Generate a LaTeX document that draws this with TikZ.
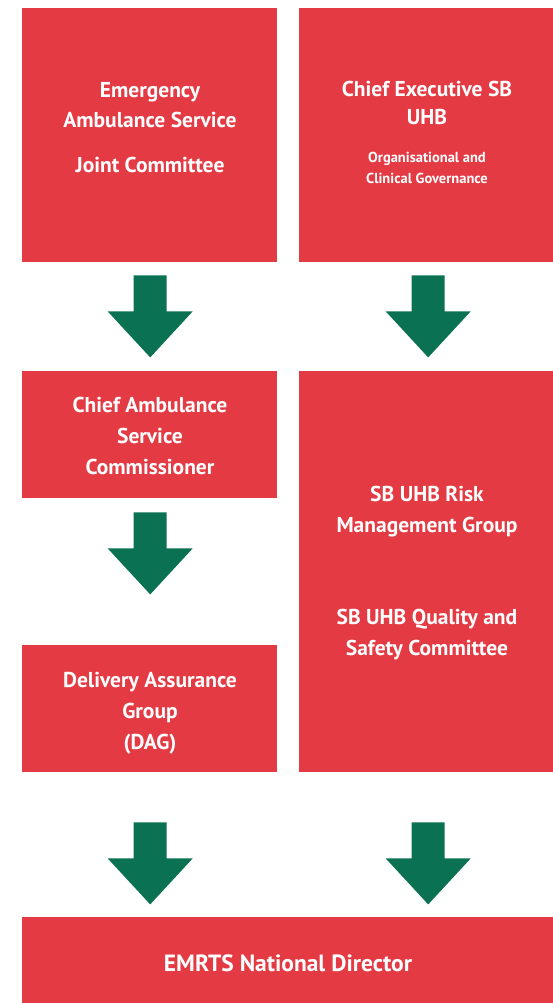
\documentclass[tikz,border=0pt]{standalone}
\usepackage{fontspec}
\setmainfont{PT Sans}
\usetikzlibrary{calc}
\definecolor{boxred}{HTML}{E33A43}
\definecolor{arrgreen}{HTML}{0B7153}
\begin{document}
\begin{tikzpicture}[x=1pt,y=-1pt,
  redbox/.style={fill=boxred, draw=none, inner sep=0pt, anchor=north west},
  lbl/.style={text=white, font=\bfseries\fontsize{21.5}{21.5}\selectfont, anchor=base, inner sep=0pt},
  biglbl/.style={text=white, font=\bfseries\fontsize{23.5}{23.5}\selectfont, anchor=base, inner sep=0pt},
  smalllbl/.style={text=white, font=\bfseries\fontsize{14.5}{14.5}\selectfont, anchor=base, inner sep=0pt},
  bigarrow/.pic={\fill[arrgreen] (-16.5,0) -- (16.5,0) -- (16.5,36) -- (42.5,36) -- (0,82) -- (-42.5,36) -- (-16.5,36) -- cycle;}
]
\useasboundingbox (0,0) rectangle (553,1003);
\fill[white] (0,0) rectangle (553,1003);

% boxes
\node[redbox, minimum width=255pt, minimum height=254pt] (jc) at (22,8) {};
\node[redbox, minimum width=254pt, minimum height=254pt] (ce) at (299,8) {};
\node[redbox, minimum width=255pt, minimum height=127pt] (cas) at (22,371) {};
\node[redbox, minimum width=255pt, minimum height=127pt] (dag) at (22,645) {};
\node[redbox, minimum width=254pt, minimum height=401pt] (rm) at (299,371) {};
\node[redbox, minimum width=531pt, minimum height=86pt] (nd) at (22,917) {};

% texts
\node[lbl] (t1a) at (150,98) {Emergency};
\node[lbl] (t1b) at (150,128) {Ambulance Service};
\node[lbl] (t1c) at (150,172) {Joint Committee};

\node[lbl] (t2a) at (427,97) {Chief Executive SB};
\node[lbl] (t2b) at (427,125) {UHB};
\node[smalllbl] (t2c) at (427,163) {Organisational and};
\node[smalllbl] (t2d) at (427,183) {Clinical Governance};

\node[lbl] (t3a) at (150,412) {Chief Ambulance};
\node[lbl] (t3b) at (150,443) {Service};
\node[lbl] (t3c) at (150,474) {Commissioner};

\node[lbl] (t4a) at (150,687) {Delivery Assurance};
\node[lbl] (t4b) at (150,718) {Group};
\node[lbl] (t4c) at (150,749) {(DAG)};

\node[lbl] (t5a) at (427,501) {SB UHB Risk};
\node[lbl] (t5b) at (427,532) {Management Group};
\node[lbl] (t5c) at (427,624) {SB UHB Quality and};
\node[lbl] (t5d) at (427,655) {Safety Committee};

\node[biglbl] (t6) at (288,971) {EMRTS National Director};

% arrows
\coordinate (a1) at ($(jc.south)+(0.5,13)$);
\coordinate (a2) at ($(ce.south)+(2,13)$);
\coordinate (a3) at ($(cas.south)+(0.5,14)$);
\coordinate (a4) at ($(dag.south)+(0.5,50)$);
\coordinate (a5) at ($(rm.south)+(2,50)$);
\pic at (a1) {bigarrow};
\pic at (a2) {bigarrow};
\pic at (a3) {bigarrow};
\pic at (a4) {bigarrow};
\pic at (a5) {bigarrow};
\end{tikzpicture}
\end{document}
